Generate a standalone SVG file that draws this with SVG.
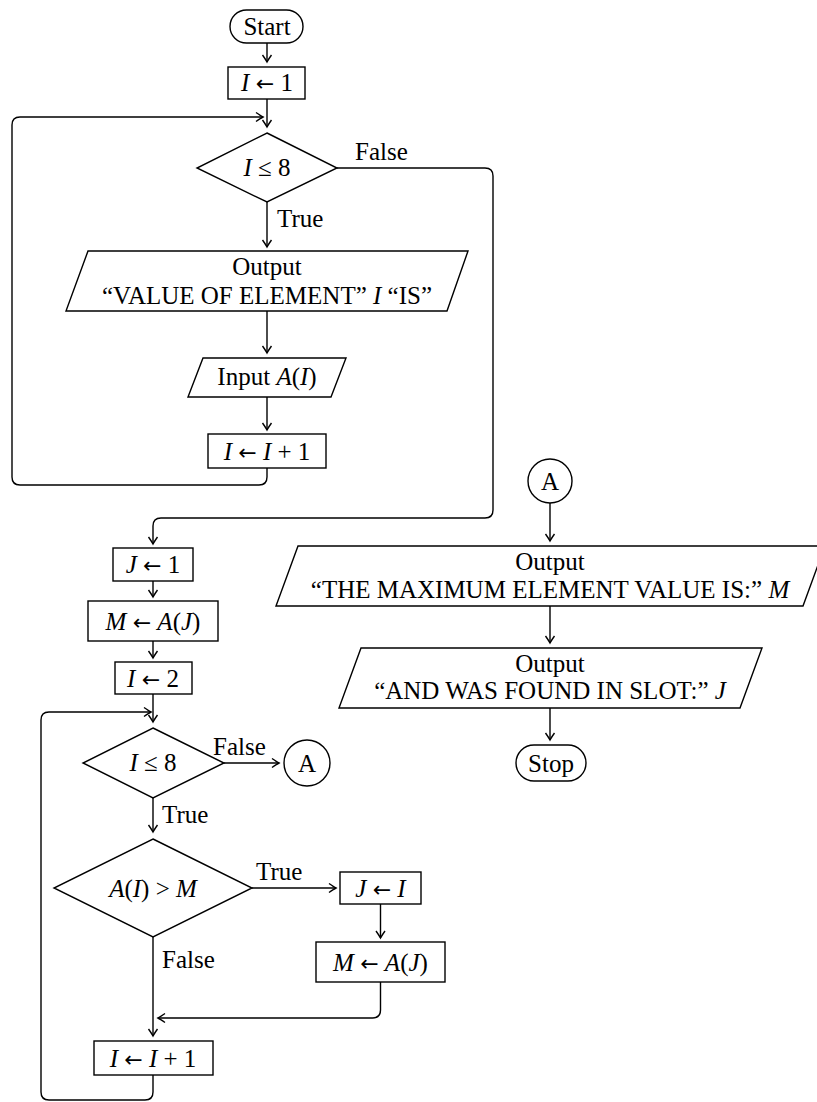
<svg xmlns="http://www.w3.org/2000/svg" width="817" height="1102" viewBox="0 0 817 1102">
<style>
.s{fill:#fff;stroke:#000;stroke-width:1.4}
.c{fill:none;stroke:#000;stroke-width:1.4;marker-end:url(#ah)}
.m{text-anchor:middle}
.i{font-style:italic}
.a{font-family:"DejaVu Sans",sans-serif;font-size:22px}
</style>
<defs>
<marker id="ah" viewBox="-9 -6 11 12" markerWidth="11" markerHeight="12" refX="0" refY="0" orient="auto" markerUnits="userSpaceOnUse" overflow="visible">
<path d="M-7,-4.5 Q-2,-1 0,0 Q-2,1 -7,4.5" fill="none" stroke="#000" stroke-width="1.4"/>
</marker>
</defs>
<rect width="817" height="1102" fill="#fff"/>
<g font-family="Liberation Serif, DejaVu Serif, serif" font-size="25" fill="#000">
<g id="connectors">
<path class="c" d="M267,43 V62"/>
<path class="c" d="M267,99 V127"/>
<path class="c" d="M267,468 V477 Q267,485 259,485 H20 Q12,485 12,477 V125 Q12,117 20,117 H263"/>
<path class="c" d="M337,168 H485 Q493,168 493,176 V510 Q493,518 485,518 H161 Q153,518 153,526 V544"/>
<path class="c" d="M267,202 V247"/>
<path class="c" d="M267,311 V353"/>
<path class="c" d="M267,397 V430"/>
<path class="c" d="M153,581 V597"/>
<path class="c" d="M153,641 V658"/>
<path class="c" d="M153,694 V722"/>
<path class="c" d="M153,1075 V1092 Q153,1100 145,1100 H49 Q41,1100 41,1092 V720 Q41,712 49,712 H151"/>
<path class="c" d="M224,763 H279"/>
<path class="c" d="M153,798 V832"/>
<path class="c" d="M252,888 H336"/>
<path class="c" d="M380.5,904 V938"/>
<path class="c" d="M380.5,982 V1010 Q380.5,1018 372.5,1018 H158"/>
<path class="c" d="M153,937 V1036"/>
<path class="c" d="M550,503 V541"/>
<path class="c" d="M550,606 V643"/>
<path class="c" d="M550,708 V740"/>
<text x="355" y="160">False</text>
<text x="277" y="227">True</text>
<text x="213" y="755">False</text>
<text x="162" y="823">True</text>
<text x="256" y="880">True</text>
<text x="162" y="968">False</text>
</g>

<g id="start">
<rect class="s" x="230" y="10" width="73" height="33" rx="16.5"/>
<text class="m" x="267" y="35">Start</text>
</g>
<g id="i1">
<rect class="s" x="228" y="67" width="77" height="32"/>
<text class="m" x="267" y="91"><tspan class="i">I</tspan> <tspan class="a">←</tspan> 1</text>
</g>
<g id="d1">
<polygon class="s" points="267,133 337,168 267,202 197,168"/>
<text class="m" x="267" y="176"><tspan class="i">I</tspan> ≤ 8</text>
</g>
<g id="out1">
<polygon class="s" points="88,251 468,251 447,311 66,311"/>
<text class="m" x="267" y="275">Output</text>
<text class="m" x="267" y="304">“VALUE OF ELEMENT” <tspan class="i">I</tspan> “IS”</text>
</g>
<g id="in1">
<polygon class="s" points="203,358 346,358 331,397 188,397"/>
<text class="m" x="267" y="385">Input <tspan class="i">A</tspan>(<tspan class="i">I</tspan>)</text>
</g>
<g id="inc1">
<rect class="s" x="208" y="434" width="118" height="34"/>
<text class="m" x="267" y="460"><tspan class="i">I</tspan> <tspan class="a">←</tspan> <tspan class="i">I</tspan> + 1</text>
</g>
<g id="j1">
<rect class="s" x="113" y="548" width="80" height="33"/>
<text class="m" x="153" y="573"><tspan class="i">J</tspan> <tspan class="a">←</tspan> 1</text>
</g>
<g id="m1">
<rect class="s" x="88" y="601" width="130" height="40"/>
<text class="m" x="153" y="630"><tspan class="i">M</tspan> <tspan class="a">←</tspan> <tspan class="i">A</tspan>(<tspan class="i">J</tspan>)</text>
</g>
<g id="i2">
<rect class="s" x="115" y="662" width="77" height="32"/>
<text class="m" x="153" y="687"><tspan class="i">I</tspan> <tspan class="a">←</tspan> 2</text>
</g>
<g id="d2">
<polygon class="s" points="153,728 224,763 153,798 83,763"/>
<text class="m" x="153" y="771"><tspan class="i">I</tspan> ≤ 8</text>
</g>
<g id="connA1">
<circle class="s" cx="307" cy="763" r="23"/>
<text class="m" x="307" y="772">A</text>
</g>
<g id="d3">
<polygon class="s" points="153,839 252,888 153,937 54,888"/>
<text class="m" x="153" y="897"><tspan class="i">A</tspan>(<tspan class="i">I</tspan>) &gt; <tspan class="i">M</tspan></text>
</g>
<g id="ji">
<rect class="s" x="340" y="872" width="81" height="32"/>
<text class="m" x="380.5" y="897"><tspan class="i">J</tspan> <tspan class="a">←</tspan> <tspan class="i">I</tspan></text>
</g>
<g id="m2">
<rect class="s" x="316" y="942" width="129" height="40"/>
<text class="m" x="380.5" y="971"><tspan class="i">M</tspan> <tspan class="a">←</tspan> <tspan class="i">A</tspan>(<tspan class="i">J</tspan>)</text>
</g>
<g id="inc2">
<rect class="s" x="94" y="1041" width="119" height="34"/>
<text class="m" x="153" y="1067"><tspan class="i">I</tspan> <tspan class="a">←</tspan> <tspan class="i">I</tspan> + 1</text>
</g>
<g id="connA2">
<circle class="s" cx="550" cy="481" r="22"/>
<text class="m" x="550" y="490">A</text>
</g>
<g id="out2">
<polygon class="s" points="298,546 825,546 803,606 276,606"/>
<text class="m" x="550" y="570">Output</text>
<text class="m" x="550" y="598">“THE MAXIMUM ELEMENT VALUE IS:” <tspan class="i">M</tspan></text>
</g>
<g id="out3">
<polygon class="s" points="361,648 762,648 740,708 339,708"/>
<text class="m" x="550" y="672">Output</text>
<text class="m" x="550" y="699">“AND WAS FOUND IN SLOT:” <tspan class="i">J</tspan></text>
</g>
<g id="stop">
<rect class="s" x="516" y="745" width="70" height="36" rx="18"/>
<text class="m" x="551" y="772">Stop</text>
</g>
</g>
</svg>
